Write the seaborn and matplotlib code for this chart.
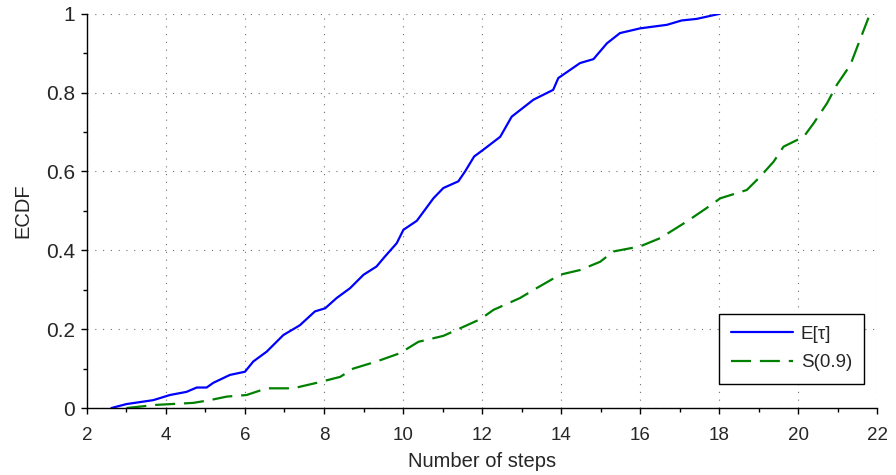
import matplotlib
matplotlib.use("Agg")
import matplotlib.pyplot as plt
from matplotlib.ticker import MultipleLocator
import seaborn as sns
import pandas as pd

# E[tau] ECDF
tau_x = [2.62, 3.0, 3.68, 4.1, 4.52, 4.78, 5.03, 5.2, 5.62, 6.0, 6.21, 6.55, 6.97,
         7.39, 7.77, 8.03, 8.32, 8.66, 9.0, 9.33, 9.54, 9.84, 10.01, 10.35, 10.77,
         11.02, 11.4, 11.57, 11.8, 12.03, 12.46, 12.75, 13.3, 13.8, 13.93, 14.48,
         14.82, 15.16, 15.49, 16.0, 16.68, 17.05, 17.43, 18.02]
tau_y = [0.0, 0.01, 0.02, 0.033, 0.041, 0.052, 0.052, 0.064, 0.084, 0.092, 0.118,
         0.143, 0.185, 0.21, 0.245, 0.253, 0.279, 0.304, 0.338, 0.359, 0.384, 0.418,
         0.452, 0.475, 0.532, 0.558, 0.575, 0.600, 0.638, 0.655, 0.688, 0.739, 0.782,
         0.807, 0.837, 0.875, 0.885, 0.925, 0.951, 0.963, 0.972, 0.983, 0.987, 1.0]

# S(0.9) ECDF
s_x = [3.0, 3.76, 4.69, 5.11, 5.54, 6.04, 6.55, 7.22, 7.82, 8.41, 8.74, 9.33, 9.92,
       10.39, 11.02, 11.44, 11.95, 12.29, 12.96, 13.38, 13.97, 14.48, 14.99, 15.32,
       16.0, 16.51, 17.18, 17.68, 18.03, 18.7, 19.04, 19.38, 19.63, 20.14, 20.39,
       20.73, 20.98, 21.32, 21.53, 21.78]
s_y = [0.0, 0.008, 0.013, 0.02, 0.029, 0.033, 0.05, 0.05, 0.064, 0.079, 0.1, 0.118,
       0.139, 0.168, 0.183, 0.202, 0.225, 0.249, 0.279, 0.304, 0.338, 0.35, 0.371,
       0.397, 0.41, 0.431, 0.473, 0.507, 0.532, 0.553, 0.587, 0.625, 0.663, 0.688,
       0.722, 0.773, 0.82, 0.87, 0.925, 0.99]

labels = ["E[τ]", "S(0.9)"]
x_ticks = list(range(2, 23, 2))
y_ticks = [0, 0.2, 0.4, 0.6, 0.8, 1]
y_tick_labels = ["0", "0.2", "0.4", "0.6", "0.8", "1"]

sns.set_style("white")
plt.rcParams["font.family"] = ["Liberation Sans", "DejaVu Sans"]

fig = plt.figure(figsize=(8.96, 4.75), dpi=100)
ax = fig.add_axes([0.097, 0.141, 0.882, 0.830])

df_tau = pd.DataFrame({"x": tau_x, "y": tau_y})
df_s = pd.DataFrame({"x": s_x, "y": s_y})

sns.lineplot(data=df_tau, x="x", y="y", ax=ax, color="#0000ff", linewidth=1.6,
             label=labels[0], sort=False)
sns.lineplot(data=df_s, x="x", y="y", ax=ax, color="#008000", linewidth=1.6,
             label=labels[1], sort=False)
ax.lines[1].set_dashes([9, 4])

ax.set_xlim(2, 22)
ax.set_ylim(0, 1)
ax.set_xticks(x_ticks)
ax.set_xticklabels([str(v) for v in x_ticks], fontsize=13.5)
ax.set_yticks(y_ticks)
ax.set_yticklabels(y_tick_labels, fontsize=15)
ax.xaxis.set_minor_locator(MultipleLocator(1))
ax.yaxis.set_minor_locator(MultipleLocator(0.1))
ax.tick_params(which="major", direction="out", length=4.5, width=1, color="black",
               bottom=True, left=True, pad=4)
ax.tick_params(which="minor", direction="out", length=3, width=1, color="black",
               bottom=True, left=True)
ax.tick_params(axis="x", which="major", pad=9)

ax.grid(True, which="major", linestyle=(0, (1, 6)), color="#707070", linewidth=0.8)
for side in ["top", "right"]:
    ax.spines[side].set_visible(False)
for side in ["left", "bottom"]:
    ax.spines[side].set_color("black")
    ax.spines[side].set_linewidth(1.0)

ax.set_xlabel("Number of steps", fontsize=14.5, labelpad=6)
ax.set_ylabel("ECDF", fontsize=14.5, labelpad=10)

leg = ax.legend(loc="lower right", bbox_to_anchor=(0.9834, 0.062), fontsize=13.5,
                frameon=True, fancybox=False, framealpha=1, edgecolor="black",
                handlelength=3.3, borderpad=0.65, labelspacing=0.6, handletextpad=0.4,
                borderaxespad=0.0)
leg.get_frame().set_linewidth(1.0)
leg.get_lines()[1].set_dashes([9, 4])

fig.savefig("out.png", dpi=100)
